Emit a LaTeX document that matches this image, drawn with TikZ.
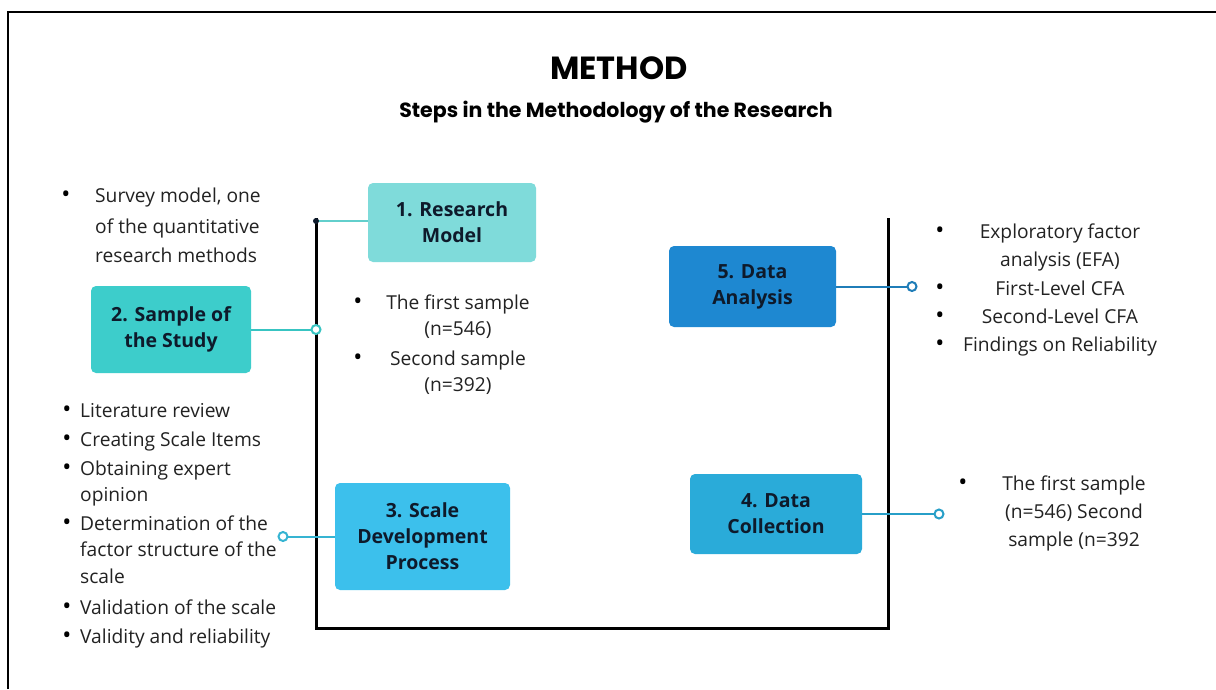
\documentclass[tikz,border=0pt]{standalone}
\usepackage{fontspec}
\setmainfont{Open Sans}
\newfontfamily\titlefont{Poppins}
\definecolor{boxA}{HTML}{7FDBDA}
\definecolor{boxB}{HTML}{3DCDCB}
\definecolor{boxC}{HTML}{3CC0EC}
\definecolor{boxD}{HTML}{2AABD9}
\definecolor{boxE}{HTML}{1E88D1}
\definecolor{lnA}{HTML}{62CFCC}
\definecolor{lnB}{HTML}{38C4C2}
\definecolor{lnC}{HTML}{36B4D2}
\definecolor{lnD}{HTML}{279FC8}
\definecolor{lnE}{HTML}{1F7DB8}
\definecolor{navy}{HTML}{0E1A2B}
\definecolor{bodytext}{HTML}{222222}
\begin{document}
\begin{tikzpicture}[x=1pt,y=-1pt,
  box/.style={rounded corners=5pt, align=center, inner sep=0pt, text=navy,
    font=\fontsize{19.5}{26}\selectfont\bfseries},
  conn/.style={line width=2pt},
  ring/.style={line width=2pt, fill=white},
  bl/.style={anchor=base west, inner sep=0pt, text=bodytext, font=\fontsize{19.2}{21}\selectfont},
  bc/.style={anchor=base, inner sep=0pt, text=bodytext, font=\fontsize{19.2}{21}\selectfont},
  bul/.style={anchor=base, inner sep=0pt, text=black, font=\fontsize{24}{24}\selectfont}]
\useasboundingbox (0,0) rectangle (1216,689);
\fill[white] (0,0) rectangle (1216,689);
% outer frame
\draw[line width=2pt, black] (8,689) -- (8,12) -- (1216,12);
% titles
\node[inner sep=0pt, anchor=base, font=\titlefont\fontsize{32}{34}\selectfont\bfseries] (title) at (619,79) {METHOD};
\node[inner sep=0pt, anchor=base, font=\titlefont\fontsize{20.5}{22}\selectfont\bfseries] (subtitle) at (616,117) {Steps in the Methodology of the Research};
% bracket
\draw[line width=3pt, black] (316,218) -- (316,628) -- (888,628) -- (888,218);
% boxes
\node[box, fill=boxA, minimum width=168pt, minimum height=79pt] (b1) at (452,222.5) {1. Research\\Model};
\node[box, fill=boxB, minimum width=160pt, minimum height=87pt] (b2) at (171,329.5) {2. Sample of\\the Study};
\node[box, fill=boxC, minimum width=175pt, minimum height=107pt] (b3) at (422.5,536.5) {3. Scale\\Development\\Process};
\node[box, fill=boxD, minimum width=172pt, minimum height=80pt] (b4) at (776,514) {4. Data\\Collection};
\node[box, fill=boxE, minimum width=167pt, minimum height=81pt] (b5) at (752.5,286.5) {5. Data\\Analysis};
% connector ends
\coordinate (e1) at (316,221);
\coordinate (e2) at (316,329.5);
\coordinate (e3) at (283,536.5);
\coordinate (e4) at (939,514);
\coordinate (e5) at (912,286.5);
\draw[conn, draw=lnA] (b1.west |- e1) -- (e1);
\draw[conn, draw=lnB] (b2.east) -- (e2);
\draw[conn, draw=lnC] (b3.west) -- (e3);
\draw[conn, draw=lnD] (b4.east) -- (e4);
\draw[conn, draw=lnE] (b5.east) -- (e5);
\fill[navy] (e1) circle (3);
\draw[ring, draw=lnB] (e2) circle (4.5);
\draw[ring, draw=lnC] (e3) circle (4.5);
\draw[ring, draw=lnD] (e4) circle (4.5);
\draw[ring, draw=lnE] (e5) circle (4.5);
% top-left list
\node[bul] (u1) at (66,202) {\textbullet};
\node[bl] (t1a) at (95,202) {Survey model, one};
\node[bl] (t1b) at (95,233) {of the quantitative};
\node[bl] (t1c) at (95,262) {research methods};
% middle list
\node[bul] (u2a) at (358,309) {\textbullet};
\node[bc] (t2a) at (458,309) {The first sample};
\node[bc] (t2b) at (458,335) {(n=546)};
\node[bul] (u2b) at (358,365) {\textbullet};
\node[bc] (t2c) at (458,365) {Second sample};
\node[bc] (t2d) at (458,391) {(n=392)};
% bottom-left list
\node[bul] (u3a) at (67,417) {\textbullet};
\node[bl] (t3a) at (80,417) {Literature review};
\node[bul] (u3b) at (67,446) {\textbullet};
\node[bl] (t3b) at (80,446) {Creating Scale Items};
\node[bul] (u3c) at (67,475) {\textbullet};
\node[bl] (t3c) at (80,475) {Obtaining expert};
\node[bl] (t3d) at (80,501) {opinion};
\node[bul] (u3d) at (67,530) {\textbullet};
\node[bl] (t3e) at (80,530) {Determination of the};
\node[bl] (t3f) at (80,556) {factor structure of the};
\node[bl] (t3g) at (80,583) {scale};
\node[bul] (u3e) at (67,614) {\textbullet};
\node[bl] (t3h) at (80,614) {Validation of the scale};
\node[bul] (u3f) at (67,643) {\textbullet};
\node[bl] (t3i) at (80,643) {Validity and reliability};
% right-top list
\node[bul] (u4a) at (940,238) {\textbullet};
\node[bc] (t4a) at (1060,238) {Exploratory factor};
\node[bc] (t4b) at (1060,266) {analysis (EFA)};
\node[bul] (u4b) at (940,295) {\textbullet};
\node[bc] (t4c) at (1060,295) {First-Level CFA};
\node[bul] (u4c) at (940,323) {\textbullet};
\node[bc] (t4d) at (1060,323) {Second-Level CFA};
\node[bul] (u4d) at (940,351) {\textbullet};
\node[bc] (t4e) at (1060,351) {Findings on Reliability};
% right-bottom list
\node[bul] (u5a) at (963,490) {\textbullet};
\node[bc] (t5a) at (1074,490) {The first sample};
\node[bc] (t5b) at (1074,518) {(n=546) Second};
\node[bc] (t5c) at (1074,546) {sample (n=392};
\end{tikzpicture}
\end{document}
